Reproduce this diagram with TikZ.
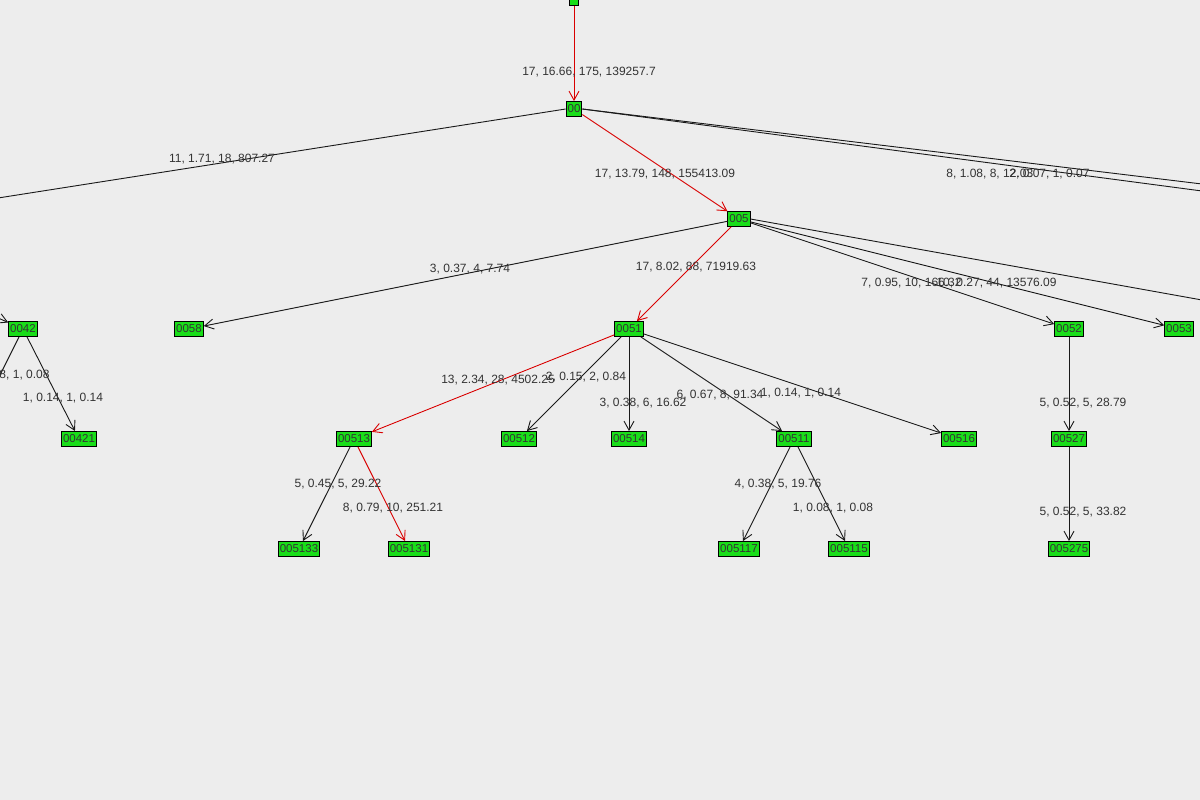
\documentclass[tikz,border=0pt]{standalone}
\usepackage{fontspec}
\setmainfont{Liberation Sans}
\usetikzlibrary{arrows.meta}
\begin{document}
\begin{tikzpicture}[x=1pt,y=-1pt,line width=0.9pt,
 nd/.style={draw=black,fill=green!85!black!90,inner sep=1.5pt,minimum height=15pt,font=\fontsize{11.5}{12}\selectfont,text=black!80},
 ed/.style={draw=black!90,-{Straight Barb[length=9pt,width=10pt]}},
 red/.style={draw=red!85!black,-{Straight Barb[length=9pt,width=10pt]}},
 lb/.style={font=\fontsize{12}{13}\selectfont,text=black!80,inner sep=0pt}]
\fill[black!7] (0,0) rectangle (1200,800);
\useasboundingbox (0,0) rectangle (1200,800);
\node[nd,minimum width=9pt,minimum height=11pt,inner sep=0pt] (n0) at (574,0) {};
\node[nd] (n00) at (574,109) {00};
\node[nd] (n005) at (739,219) {005};
\node[nd] (n0058) at (189,329) {0058};
\node[nd] (n0042) at (23,329) {0042};
\node[nd] (n00421) at (79,439) {00421};
\node[nd] (n0051) at (629,329) {0051};
\node[nd] (n0052) at (1069,329) {0052};
\node[nd] (n0053) at (1179,329) {0053};
\node[nd] (n00513) at (354,439) {00513};
\node[nd] (n00512) at (519,439) {00512};
\node[nd] (n00514) at (629,439) {00514};
\node[nd] (n00511) at (794,439) {00511};
\node[nd] (n00516) at (959,439) {00516};
\node[nd] (n00527) at (1069,439) {00527};
\node[nd] (n005133) at (299,549) {005133};
\node[nd] (n005131) at (409,549) {005131};
\node[nd] (n005117) at (739,549) {005117};
\node[nd] (n005115) at (849,549) {005115};
\node[nd] (n005275) at (1069,549) {005275};
\coordinate (L1) at (-2,198);
\coordinate (R1) at (1202,184);
\coordinate (R2) at (1202,191);
\coordinate (R3) at (1202,300);
\coordinate (L2) at (-20,310);
\coordinate (L3) at (-5,385);
\draw[red] (n0) -- (n00);
\draw[red] (n00) -- (n005);
\draw[red] (n005) -- (n0051);
\draw[red] (n0051) -- (n00513);
\draw[red] (n00513) -- (n005131);
\draw[draw=black!90] (n00.east) -- (R1);
\draw[draw=black!90] (n00.east) -- (R2);
\draw[draw=black!90] (n00.west) -- (L1);
\draw[draw=black!90] (n005.east) -- (R3);
\draw[ed] (L2) -- (n0042);
\draw[draw=black!90] (n0042) -- (L3);
\draw[ed] (n0042) -- (n00421);
\draw[ed] (n005) -- (n0058);
\draw[ed] (n005) -- (n0052);
\draw[ed] (n005) -- (n0053);
\draw[ed] (n0051) -- (n00512);
\draw[ed] (n0051) -- (n00514);
\draw[ed] (n0051) -- (n00511);
\draw[ed] (n0051) -- (n00516);
\draw[ed] (n0052) -- (n00527);
\draw[ed] (n00527) -- (n005275);
\draw[ed] (n00513) -- (n005133);
\draw[ed] (n00511) -- (n005117);
\draw[ed] (n00511) -- (n005115);
\node[lb] (t1) at (589,72) {17, 16.66, 175, 139257.7};
\node[lb] (t2) at (222,159) {11, 1.71, 18, 807.27};
\node[lb] (t3) at (665,174) {17, 13.79, 148, 155413.09};
\node[lb,anchor=west] (t4) at (946,174) {8, 1.08, 8, 12.03};
\node[lb,anchor=west] (t5) at (1009,174) {2, 0.07, 1, 0.07};
\node[lb] (t6) at (470,269) {3, 0.37, 4, 7.74};
\node[lb] (t7) at (696,267) {17, 8.02, 88, 71919.63};
\node[lb,anchor=west] (t8) at (861,283) {7, 0.95, 10, 166.32};
\node[lb,anchor=west] (t9) at (936,283) {10, 0.27, 44, 13576.09};
\node[lb] (t10) at (498,380) {13, 2.34, 28, 4502.25};
\node[lb] (t11) at (586,377) {2, 0.15, 2, 0.84};
\node[lb] (t12) at (643,403) {3, 0.38, 6, 16.62};
\node[lb] (t13) at (720,395) {6, 0.67, 8, 91.34};
\node[lb] (t14) at (801,393) {1, 0.14, 1, 0.14};
\node[lb] (t15) at (1083,403) {5, 0.52, 5, 28.79};
\node[lb,anchor=east] (t16) at (50,375) {1, 0.08, 1, 0.08};
\node[lb] (t17) at (63,398) {1, 0.14, 1, 0.14};
\node[lb] (t18) at (338,484) {5, 0.45, 5, 29.22};
\node[lb] (t19) at (393,508) {8, 0.79, 10, 251.21};
\node[lb] (t20) at (778,484) {4, 0.38, 5, 19.76};
\node[lb] (t21) at (833,508) {1, 0.08, 1, 0.08};
\node[lb] (t22) at (1083,512) {5, 0.52, 5, 33.82};
\end{tikzpicture}
\end{document}
